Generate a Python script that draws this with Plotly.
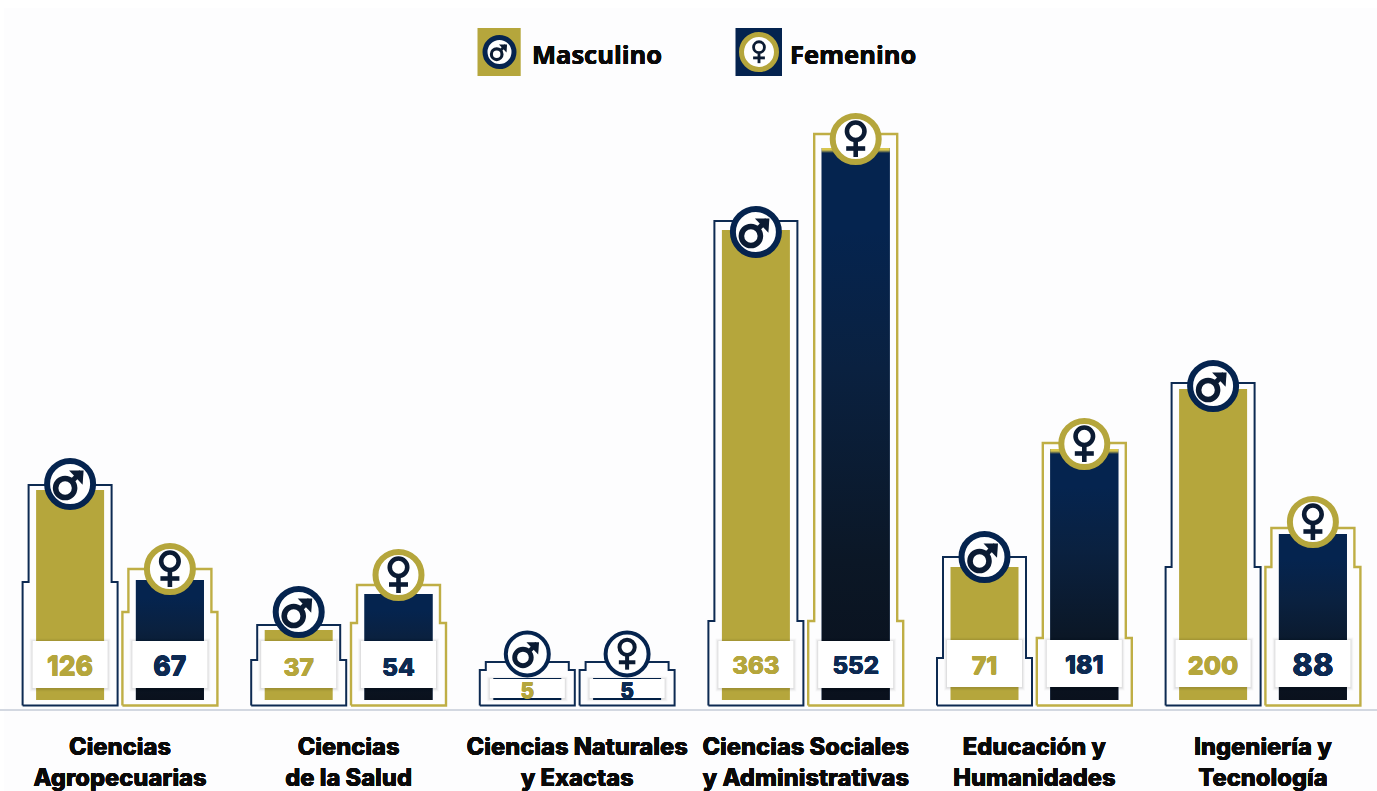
import plotly.graph_objects as go

categories = ["Ciencias<br>Agropecuarias", "Ciencias<br>de la Salud", "Ciencias Naturales<br>y Exactas",
              "Ciencias Sociales<br>y Administrativas", "Educación y<br>Humanidades", "Ingeniería y<br>Tecnología"]
values_m = [126, 37, 5, 363, 71, 200]
values_f = [67, 54, 5, 552, 181, 88]
# Drawn heights: the infographic's bars are not proportional to their labels
bar_m = [210, 70, 22, 470, 133, 311]
bar_f = [120, 106, 22, 552, 251, 166]
frame_top_m = [215, 75, 38, 479, 143, 317]
frame_top_f = [131, 115, 38, 566, 257, 172]
frame_step_m = [118, 40, 30, 79, 42, 133]
frame_step_f = [88, 77, 30, 79, 62, 133]
badge_m = [216, 88, 46, 468, 143, 314]
badge_f = [131, 125, 46, 561, 256, 178]
box_mid = [35.5, 35.5, 11.5, 35.5, 36.5, 36.5]
box_h = [47, 47, 19, 47, 47, 47]
label_mid_m = [31, 30, 7, 32, 32, 32]
label_mid_f = [31, 30, 7, 32, 33, 32]
label_size_m = [26.5, 24.5, 21, 24, 25, 25]
label_size_f = [26.5, 24.5, 21, 24, 25, 31]

GOLD, FRAME_GOLD, NAVY, INK = "#b5a63c", "#bfae45", "#05244f", "#0b1b33"
STEP, OFF, BAR_W = 228.6, 49.9, 68
X0 = 120.0
def u(px):  # pixels -> axis units along x
    return px / STEP
def x_of(px):
    return (px - X0) / STEP
def thick(c, w=0.25):
    return f"{w}px 0 0 {c}, -{w}px 0 0 {c}, 0 {w}px 0 {c}, 0 -{w}px 0 {c}"

idx = list(range(len(categories)))
xm = [i - u(OFF) for i in idx]
xf = [i + u(OFF) for i in idx]
small = [v == 5 for v in values_m]
fig = go.Figure()

fig.add_trace(go.Bar(x=xm, y=bar_m, width=u(BAR_W), name="Masculino",
                     marker=dict(color=[NAVY if s else GOLD for s in small], line_width=0)))
fig.add_trace(go.Bar(x=xf, y=bar_f, width=u(BAR_W), name="Femenino",
                     marker=dict(color=NAVY, line_width=0)))

# gradients on the navy bars
for x, h, s in zip(xf, bar_f, small):
    if s:
        continue
    stops = [[0, "#0a111d"], [0.25, "#0b1726"], [0.6, "#0a2140"], [0.85, "#05244f"]]
    if h >= 250:
        stops += [[1 - 5 / h, "#05244f"], [1 - 2 / h, "#d8c64e"], [1, "#d8c64e"]]
    else:
        stops += [[1, "#05244f"]]
    hw = u(BAR_W) / 2
    fig.add_trace(go.Scatter(x=[x - hw, x + hw, x + hw, x - hw, x - hw], y=[0, 0, h, h, 0], mode="none",
                             fill="toself", fillgradient=dict(type="vertical", colorscale=stops),
                             hoverinfo="skip"))

# stepped frames
def frame(x, top, step):
    a, b = u(41.5), u(47.5)
    base = -5.5
    return ([x - b, x - b, x - a, x - a, x + a, x + a, x + b, x + b, x - b],
            [base, step, step, top, top, step, step, base, base])
for xs, tops, steps, kind in ((xm, frame_top_m, frame_step_m, "m"), (xf, frame_top_f, frame_step_f, "f")):
    for x, t, st, s in zip(xs, tops, steps, small):
        fx, fy = frame(x, t, st)
        navy = kind == "m" or s
        fig.add_trace(go.Scatter(x=fx, y=fy, mode="lines", hoverinfo="skip",
                                 line=dict(color="#0d2a52" if navy else FRAME_GOLD, width=2 if navy else 2.4)))

# value boxes with a soft shadow
def boxes(grow, dy=0):
    X, Y = [], []
    hw = u(37.5 + grow)
    for xs in (xm, xf):
        for x, m, h in zip(xs, box_mid, box_h):
            lo, hi = m - h / 2 - grow - dy, m + h / 2 + grow - dy
            X += [x - hw, x + hw, x + hw, x - hw, x - hw, None]
            Y += [lo, lo, hi, hi, lo, None]
    return X, Y
for grow, col in ((3, "rgba(0,0,0,0.025)"), (2, "rgba(0,0,0,0.04)"), (1, "rgba(0,0,0,0.06)"), (0, "#ffffff")):
    bx, by = boxes(grow, 0.5 if grow else 0)
    fig.add_trace(go.Scatter(x=bx, y=by, mode="none", fill="toself", fillcolor=col, hoverinfo="skip"))

# value labels
VAL_FONT = "Inter"
fig.add_trace(go.Scatter(x=xm, y=label_mid_m, mode="text", text=[str(v) for v in values_m],
                         textposition="middle center", hoverinfo="skip",
                         textfont=dict(family=VAL_FONT, size=label_size_m, color=GOLD, weight=800,
                                       shadow=thick(GOLD))))
fig.add_trace(go.Scatter(x=xf, y=label_mid_f, mode="text", text=[str(v) for v in values_f],
                         textposition="middle center", hoverinfo="skip",
                         textfont=dict(family=VAL_FONT, size=label_size_f, color="#0d2a52", weight=800,
                                       shadow=thick("#0d2a52"))))

# badges: white disc with a coloured ring and a drawn sex symbol
def symbol(x, y, kind, k):
    """x in axis units, y in axis units (1 unit = 1 px); k scales the symbol."""
    def px(dx):
        return x + u(dx * k)
    def py(dy):  # dy in px, positive downwards
        return y - dy * k
    if kind == "m":
        fig.add_trace(go.Scatter(x=[px(3), px(11)], y=[py(-4), py(-12)], mode="lines", hoverinfo="skip",
                                 line=dict(color=INK, width=5 * k)))
        fig.add_trace(go.Scatter(x=[px(-1), px(13.5), px(12.5), px(-1)], y=[py(-13.5), py(-13.5), py(0.7), py(-13.5)],
                                 mode="none", fill="toself", fillcolor=INK, hoverinfo="skip"))
        fig.add_trace(go.Scatter(x=[px(-5)], y=[py(4)], mode="markers", hoverinfo="skip",
                                 marker=dict(color="#ffffff", size=19 * k, opacity=1,
                                             line=dict(color=INK, width=5.6 * k))))
    else:
        fig.add_trace(go.Scatter(x=[px(0), px(0)], y=[py(2), py(18)], mode="lines", hoverinfo="skip",
                                 line=dict(color=INK, width=4.6 * k)))
        fig.add_trace(go.Scatter(x=[px(-9.5), px(9.5)], y=[py(9.5), py(9.5)], mode="lines", hoverinfo="skip",
                                 line=dict(color=INK, width=4.6 * k)))
        fig.add_trace(go.Scatter(x=[px(0)], y=[py(-7.7)], mode="markers", hoverinfo="skip",
                                 marker=dict(color="#ffffff", size=17.5 * k, opacity=1,
                                             line=dict(color=INK, width=4.6 * k))))

for xs, ys, kind in ((xm, badge_m, "m"), (xf, badge_f, "f")):
    fig.add_trace(go.Scatter(x=xs, y=ys, mode="markers", hoverinfo="skip",
                             marker=dict(symbol="circle", color="#ffffff", opacity=1,
                                         size=[43 if s else 46 for s in small],
                                         line=dict(color=[NAVY if (kind == "m" or s) else GOLD for s in small],
                                                   width=[4 if s else 6 for s in small]))))
    for x, y, s in zip(xs, ys, small):
        symbol(x, y, kind, 0.87 if s else 1.0)

# legend
legend_items = [("Masculino", 477.5, 520.7, 499.5, GOLD, NAVY, 532, "m"),
                ("Femenino", 735.5, 782, 759, "#04234f", GOLD, 790, "f")]
PW, PH = 1377, 709
shapes = [dict(type="rect", xref="paper", yref="paper", x0=4 / PW, x1=1, y0=-82 / PH, y1=(PH - 8) / PH,
               fillcolor="#fdfdfe", line_width=0, layer="below")]
annotations = []
for name, x0, x1, cx, sq, ring, tx, g in legend_items:
    shapes.append(dict(type="rect", xref="paper", yref="paper", x0=x0 / PW, x1=x1 / PW,
                       y0=(PH - 76) / PH, y1=(PH - 28) / PH, fillcolor=sq, line_width=0, layer="below"))
    annotations.append(dict(text=name, xref="paper", yref="paper", x=tx / PW, y=(PH - 54) / PH, xanchor="left",
                            yanchor="middle", showarrow=False, xshift=-2,
                            font=dict(family="Open Sans", size=25.5, color="#0a0a0a", weight=700,
                                      shadow=thick("#0a0a0a", 0.2))))
    yv = 700 - 52
    fig.add_trace(go.Scatter(x=[x_of(cx)], y=[yv], mode="markers", hoverinfo="skip",
                             marker=dict(color="#ffffff", size=29 if g == "m" else 35, opacity=1,
                                         line=dict(color=ring, width=5))))
    symbol(x_of(cx), yv, g, 0.56 if g == "m" else 0.62)

fig.update_layout(
    width=1377, height=791, autosize=False, barmode="overlay", showlegend=False,
    margin=dict(l=0, r=0, t=0, b=82, pad=0),
    paper_bgcolor="#ffffff", plot_bgcolor="rgba(0,0,0,0)", shapes=shapes, annotations=annotations,
    xaxis=dict(range=[x_of(0), x_of(1377)], tickmode="array", tickvals=idx, ticktext=categories,
               showgrid=False, zeroline=False, showline=True, linecolor="#d3d8e1", linewidth=1.5,
               ticks="", ticklabelstandoff=16, automargin=False, tickangle=0,
               tickfont=dict(family="Inter", size=23.7, color="#0a0a0a", weight=800,
                             shadow=thick("#0a0a0a", 0.2))),
    yaxis=dict(range=[-9, 700], visible=False, fixedrange=True),
)
fig.write_html("out.html", config=dict(displayModeBar=False),
               post_script="document.body.style.margin='0';document.documentElement.style.overflow='hidden';")
